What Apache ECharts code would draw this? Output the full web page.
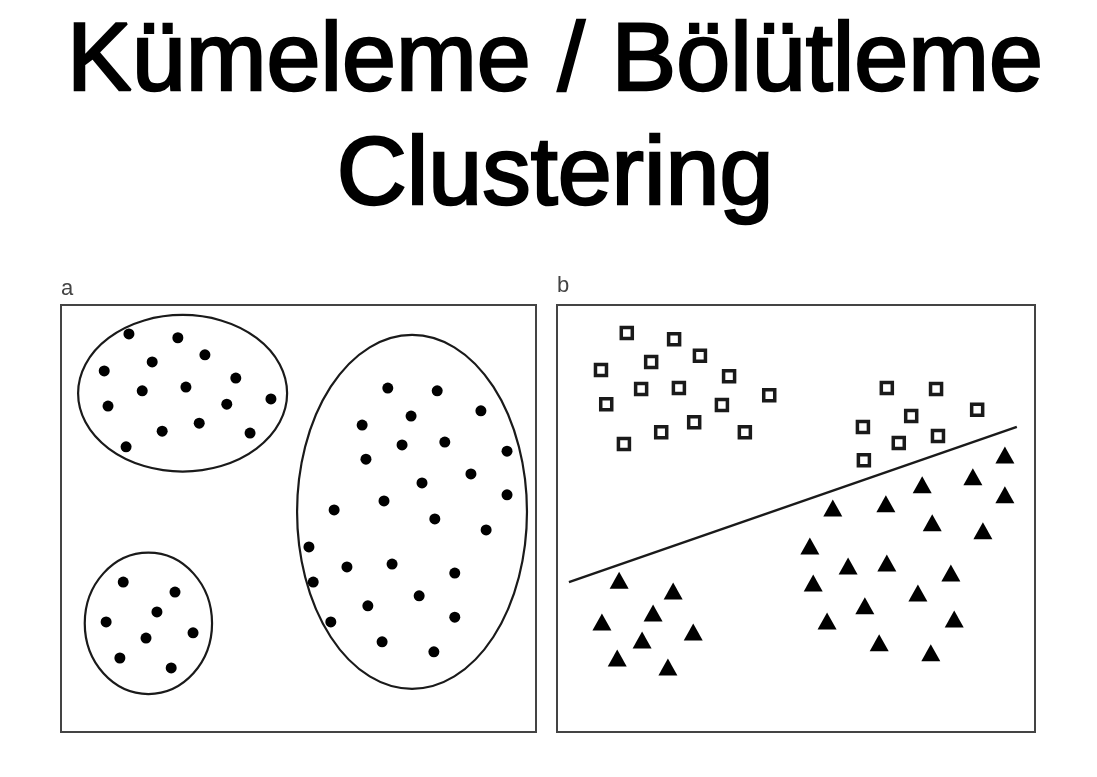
<!DOCTYPE html>
<html>
<head>
<meta charset="utf-8">
<script src="https://cdn.jsdelivr.net/npm/echarts@6/dist/echarts.min.js"></script>
<style>
html,body{margin:0;padding:0;background:#fff;}
#main{width:1097px;height:777px;}
</style>
</head>
<body>
<div id="main"></div>
<script>
// ---- Data (panel units: x 0..100, y 0..90) ----
var titleLines = ['Kümeleme / Bölütleme', 'Clustering'];
var panelLabels = ['a', 'b'];

// Panel a: points in three clusters
var clusterTopLeft = [
  [14.3,83.9],[24.6,83.1],[30.3,79.5],[19.2,78.0],[9.1,76.1],[36.8,74.6],[17.1,71.9],
  [26.3,72.7],[9.9,68.7],[34.9,69.1],[44.2,70.2],[29.1,65.1],[21.3,63.4],[39.8,63.0],[13.7,60.1]
];
var clusterRight = [
  [68.8,72.5],[79.2,71.9],[88.4,67.7],[73.7,66.6],[63.4,64.7],[71.8,60.5],[80.8,61.1],
  [93.9,59.2],[64.2,57.5],[86.3,54.4],[76.0,52.5],[93.9,50.0],[68.0,48.7],[57.5,46.8],
  [78.7,44.9],[89.5,42.6],[52.2,39.0],[69.7,35.4],[60.2,34.8],[82.9,33.5],[53.1,31.6],
  [75.4,28.7],[64.6,26.6],[82.9,24.2],[56.8,23.2],[67.6,19.0],[78.5,16.9]
];
var clusterBottomLeft = [
  [13.1,31.6],[24.0,29.5],[20.2,25.3],[9.5,23.2],[27.8,20.9],[17.9,19.8],[12.4,15.6],[23.2,13.5]
];
// cluster outlines: [centerX, centerY, radiusX, radiusY]
var clusterEllipses = [
  [25.6,71.4,22.0,16.5],
  [73.9,46.4,24.2,37.3],
  [18.4,22.9,13.4,14.9]
];

// Panel b: two classes and a separating line
var squaresPts = [
  [14.6,84.1],[24.5,82.8],[29.9,79.3],[19.7,78.0],[9.2,76.3],[36.0,75.0],[17.6,72.3],
  [25.5,72.5],[10.3,69.1],[34.5,68.9],[44.4,71.0],[28.7,65.3],[21.8,63.2],[39.3,63.2],[14.0,60.7],
  [69.0,72.5],[79.3,72.3],[87.9,67.9],[74.1,66.6],[64.0,64.3],[71.5,60.9],[79.7,62.4],[64.2,57.3]
];
var trianglesPts = [
  [13.0,32.0],[24.3,29.7],[20.1,25.1],[9.4,23.2],[28.5,21.1],[17.8,19.4],[12.6,15.6],[23.2,13.7],
  [93.7,58.4],[87.0,53.8],[76.4,52.1],[93.7,50.0],[57.7,47.2],[68.8,48.1],[78.5,44.1],
  [89.1,42.4],[52.9,39.2],[60.9,35.0],[69.0,35.6],[82.4,33.5],[53.6,31.4],[75.5,29.3],
  [64.4,26.6],[83.1,23.8],[56.5,23.4],[67.4,18.8],[78.2,16.7]
];
var separatorLine = [[2.5,31.6],[96.2,64.3]];

// ---- Chart ----
var chart = echarts.init(document.getElementById('main'), null, {renderer:'canvas'});

function ellipseItem(params, api){
  var c = api.coord([api.value(0), api.value(1)]);
  var s = api.size([api.value(2), api.value(3)]);
  var rx = Math.abs(s[0]), ry = Math.abs(s[1]);
  var d = 'M' + (c[0]-rx) + ' ' + c[1] +
          ' A' + rx + ' ' + ry + ' 0 1 0 ' + (c[0]+rx) + ' ' + c[1] +
          ' A' + rx + ' ' + ry + ' 0 1 0 ' + (c[0]-rx) + ' ' + c[1] + ' Z';
  return {type:'path', shape:{pathData:d}, style:{fill:null, stroke:'#1a1a1a', lineWidth:2.2}};
}

var FONT = '"Liberation Sans", Arial, Helvetica, sans-serif';
var dotStyle = {color:'#000', opacity:1};

var option = {
  animation:false,
  backgroundColor:'#fff',
  title:{
    text: titleLines.join('\n'),
    left:555, top:6, textAlign:'center', padding:0,
    textStyle:{fontFamily:FONT, fontSize:97, fontWeight:'normal', color:'#000', lineHeight:114,
      textBorderColor:'#000', textBorderWidth:2.5}
  },
  graphic:[
    {type:'text', left:61, top:278, style:{text:panelLabels[0], font:'22px '+FONT, fill:'#444'}},
    {type:'text', left:557, top:275, style:{text:panelLabels[1], font:'22px '+FONT, fill:'#444'}}
  ],
  grid:[
    {left:61, top:305, width:475, height:427, show:true, borderColor:'#444', borderWidth:2, backgroundColor:'#fff'},
    {left:557, top:305, width:478, height:427, show:true, borderColor:'#444', borderWidth:2, backgroundColor:'#fff'}
  ],
  xAxis:[
    {type:'value', gridIndex:0, min:0, max:100, show:false},
    {type:'value', gridIndex:1, min:0, max:100, show:false}
  ],
  yAxis:[
    {type:'value', gridIndex:0, min:0, max:90, show:false},
    {type:'value', gridIndex:1, min:0, max:90, show:false}
  ],
  series:[
    {type:'custom', xAxisIndex:0, yAxisIndex:0, renderItem:ellipseItem, data:clusterEllipses, silent:true, z:1},
    {type:'scatter', xAxisIndex:0, yAxisIndex:0, data:clusterTopLeft, symbol:'circle', symbolSize:11, itemStyle:dotStyle, z:3},
    {type:'scatter', xAxisIndex:0, yAxisIndex:0, data:clusterRight, symbol:'circle', symbolSize:11, itemStyle:dotStyle, z:3},
    {type:'scatter', xAxisIndex:0, yAxisIndex:0, data:clusterBottomLeft, symbol:'circle', symbolSize:11, itemStyle:dotStyle, z:3},
    {type:'line', xAxisIndex:1, yAxisIndex:1, data:separatorLine, showSymbol:false, symbol:'none',
      lineStyle:{color:'#1a1a1a', width:2.5}, z:2},
    {type:'scatter', xAxisIndex:1, yAxisIndex:1, data:squaresPts, symbol:'rect', symbolSize:11,
      itemStyle:{color:'#fff', borderColor:'#1a1a1a', borderWidth:3.5, opacity:1}, z:3},
    {type:'scatter', xAxisIndex:1, yAxisIndex:1, data:trianglesPts, symbol:'triangle', symbolSize:[19,17],
      itemStyle:{color:'#000', opacity:1}, z:3}
  ]
};
chart.setOption(option);
</script>
</body>
</html>
